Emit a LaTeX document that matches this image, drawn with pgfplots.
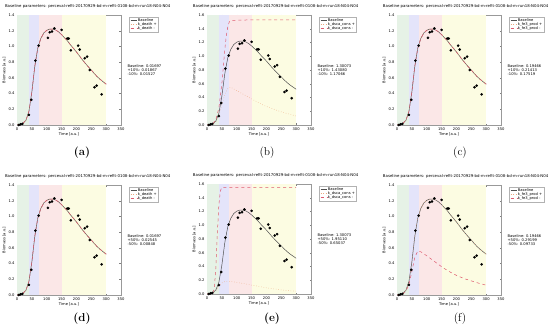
\documentclass[border=0pt]{standalone}
\usepackage{pgfplots}
\pgfplotsset{compat=1.18}
\usepackage{pgfplotstable}
\usepackage{fontspec}
\newfontfamily\dv{DejaVu Sans}
\newcommand\tf{\dv\fontsize{3.7}{4.3}\selectfont}
\newcommand\ttf{\dv\fontsize{3.9}{4.5}\selectfont}
\definecolor{bgG}{RGB}{230,242,230}
\definecolor{bgB}{RGB}{228,228,250}
\definecolor{bgP}{RGB}{251,231,231}
\definecolor{bgY}{RGB}{252,252,226}
\definecolor{cBase}{RGB}{80,80,80}
\definecolor{cPlus}{RGB}{238,170,130}
\definecolor{cMinus}{RGB}{222,90,110}

\pgfplotstableread{
x y
6 0.0
12 0.01
18 0.015
40 0.13
48 0.32
62 0.82
73 1.01
104 1.11
110 1.18
118 1.19
126 1.23
150 1.21
169 1.10
174 1.10
181 0.95
206 1.01
211 0.96
228 0.85
236 0.87
245 0.70
261 0.48
268 0.50
285 0.39
}\pts

\pgfplotstableread{
x y
0 0.0
10 0.005
20 0.02
30 0.06
40 0.17
50 0.42
60 0.75
70 0.98
80 1.10
90 1.17
100 1.205
110 1.22
120 1.22
130 1.21
140 1.185
150 1.15
160 1.11
170 1.07
180 1.02
190 0.975
200 0.93
210 0.88
220 0.83
230 0.785
240 0.74
250 0.70
260 0.655
270 0.615
280 0.58
290 0.55
300 0.52
}\base

\pgfplotstableread{
x y
0 0.0
20 0.02
30 0.08
40 0.25
50 0.60
55 0.85
60 1.10
65 1.30
70 1.43
75 1.50
80 1.52
150 1.53
300 1.53
}\bMinus

\pgfplotstableread{
x y
0 0.0
20 0.01
30 0.05
40 0.14
50 0.30
60 0.45
70 0.53
80 0.55
100 0.50
125 0.44
150 0.38
175 0.32
200 0.27
225 0.23
250 0.19
275 0.16
300 0.13
}\bPlus

\pgfplotstableread{
x y
0 0.0
20 0.02
25 0.10
30 0.40
35 0.90
40 1.30
45 1.50
50 1.55
150 1.55
300 1.55
}\eMinus

\pgfplotstableread{
x y
0 0.0
20 0.01
30 0.05
40 0.12
50 0.16
60 0.18
75 0.185
100 0.17
150 0.13
200 0.09
250 0.06
300 0.04
}\ePlus

\pgfplotstableread{
x y
0 0.0
20 0.015
30 0.05
40 0.13
50 0.30
60 0.48
70 0.56
80 0.55
100 0.50
125 0.43
150 0.36
175 0.30
200 0.25
225 0.21
250 0.18
275 0.15
300 0.125
}\fMinus

\pgfplotsset{
  panel/.style={
    scale only axis, width=104bp, height=110bp,
    xmin=0, xmax=350, ymin=0,
    clip mode=individual,
    xtick={0,50,...,350},
    ytick={0,0.2,...,1.61},
    /pgf/number format/assume math mode=true,
    ticklabel style={font=\tf},
    yticklabel style={/pgf/number format/fixed, /pgf/number format/fixed zerofill, /pgf/number format/precision=1, xshift=1pt},
    xticklabel style={yshift=1pt},
    xlabel={Time [a.u.]}, ylabel={Biomass [a.u.]},
    label style={font=\tf},
    xlabel style={yshift=4pt}, ylabel style={yshift=-4pt},
    axis line style={gray!80, line width=0.3pt},
    tick style={gray, line width=0.3pt},
    major tick length=1.5bp, tick align=inside,
    legend style={font=\tf, at={(rel axis cs:1.08,0.985)}, anchor=north west,
      draw=gray!60, line width=0.3pt, inner sep=1pt, row sep=-1.5pt,
      nodes={inner sep=0.6pt}},
    legend cell align=left,
    legend image code/.code={\draw[##1] (0cm,0cm) -- (0.22cm,0cm);},
  },
  ptsty/.style={only marks, mark=*, mark size=1.1bp, black, forget plot},
}
\newcommand\bands[1]{%
  \fill[bgG] (axis cs:0,0) rectangle (axis cs:39,#1);
  \fill[bgB] (axis cs:39,0) rectangle (axis cs:74,#1);
  \fill[bgP] (axis cs:74,0) rectangle (axis cs:151,#1);
  \fill[bgY] (axis cs:151,0) rectangle (axis cs:301,#1);
}
\newcommand\ttl{Baseline parameters: perceval-refit-20170929-bd-m-refit-0108-bd-m-run18-N04-N04}

\begin{document}
\begin{tikzpicture}
\path[use as bounding box] (0,0) rectangle (550bp,-329bp);

% (a)
\begin{axis}[panel, at={(17bp,-15bp)}, anchor=north west, ymax=1.4]
\bands{1.4}
\addplot[cBase, line width=0.5pt] table {\base};
\addplot[cPlus, dotted, line width=0.5pt] table {\base};
\addplot[cMinus, dashed, line width=0.5pt] table {\base};
\addplot[ptsty] table {\pts};
\legend{Baseline, k\_death +, k\_death -}
\node[font=\tf, anchor=west, align=left] at (rel axis cs:1.03,0.5) {Baseline: 0.01697\\ +10\%: 0.01867\\ -10\%: 0.01527};
\node[font=\ttf] at (rel axis cs:0.68,1.08) {\ttl};
\end{axis}

% (b)
\begin{axis}[panel, at={(207bp,-15bp)}, anchor=north west, ymax=1.6]
\bands{1.6}
\addplot[cBase, line width=0.5pt] table {\base};
\addplot[cPlus, dotted, line width=0.5pt] table {\bPlus};
\addplot[cMinus, dashed, line width=0.5pt] table {\bMinus};
\addplot[ptsty] table {\pts};
\legend{Baseline, k\_dsca\_cons +, k\_dsca\_cons -}
\node[font=\tf, anchor=west, align=left] at (rel axis cs:1.03,0.5) {Baseline: 1.30073\\ +10\%: 1.43080\\ -10\%: 1.17066};
\node[font=\ttf] at (rel axis cs:0.66,1.08) {\ttl};
\end{axis}

% (c)
\begin{axis}[panel, at={(397bp,-15bp)}, anchor=north west, ymax=1.4]
\bands{1.4}
\addplot[cBase, line width=0.5pt] table {\base};
\addplot[cPlus, dotted, line width=0.5pt] table {\base};
\addplot[cMinus, dashed, line width=0.5pt] table {\base};
\addplot[ptsty] table {\pts};
\legend{Baseline, k\_fe3\_prod +, k\_fe3\_prod -}
\node[font=\tf, anchor=west, align=left] at (rel axis cs:1.03,0.5) {Baseline: 0.19466\\ +10\%: 0.21413\\ -10\%: 0.17519};
\node[font=\ttf] at (rel axis cs:0.66,1.08) {\ttl};
\end{axis}

% (d)
\begin{axis}[panel, at={(17bp,-185bp)}, anchor=north west, ymax=1.4]
\bands{1.4}
\addplot[cBase, line width=0.5pt] table {\base};
\addplot[cPlus, dotted, line width=0.5pt] table {\base};
\addplot[cMinus, dashed, line width=0.5pt] table {\base};
\addplot[ptsty] table {\pts};
\legend{Baseline, k\_death +, k\_death -}
\node[font=\tf, anchor=west, align=left] at (rel axis cs:1.03,0.5) {Baseline: 0.01697\\ +50\%: 0.02545\\ -50\%: 0.00848};
\node[font=\ttf] at (rel axis cs:0.68,1.08) {\ttl};
\end{axis}

% (e)
\begin{axis}[panel, at={(207bp,-184bp)}, anchor=north west, ymax=1.6]
\bands{1.6}
\addplot[cBase, line width=0.5pt] table {\base};
\addplot[cPlus, dotted, line width=0.5pt] table {\ePlus};
\addplot[cMinus, dashed, line width=0.5pt] table {\eMinus};
\addplot[ptsty] table {\pts};
\legend{Baseline, k\_dsca\_cons +, k\_dsca\_cons -}
\node[font=\tf, anchor=west, align=left] at (rel axis cs:1.03,0.5) {Baseline: 1.30073\\ +50\%: 1.95110\\ -50\%: 0.65037};
\node[font=\ttf] at (rel axis cs:0.66,1.08) {\ttl};
\end{axis}

% (f)
\begin{axis}[panel, at={(397bp,-185bp)}, anchor=north west, ymax=1.4]
\bands{1.4}
\addplot[cBase, line width=0.5pt] table {\base};
\addplot[cPlus, dotted, line width=0.5pt] table {\base};
\addplot[cMinus, dashed, line width=0.5pt] table {\fMinus};
\addplot[ptsty] table {\pts};
\legend{Baseline, k\_fe3\_prod +, k\_fe3\_prod -}
\node[font=\tf, anchor=west, align=left] at (rel axis cs:1.03,0.5) {Baseline: 0.19466\\ +50\%: 0.29199\\ -50\%: 0.09733};
\node[font=\ttf] at (rel axis cs:0.66,1.08) {\ttl};
\end{axis}

\node[font=\fontsize{11.5}{12}\selectfont\bfseries] at (82bp,-153bp) {(a)};
\node[font=\fontsize{11.5}{12}\selectfont] at (267bp,-153bp) {(b)};
\node[font=\fontsize{11.5}{12}\selectfont] at (460bp,-153bp) {(c)};
\node[font=\fontsize{11.5}{12}\selectfont\bfseries] at (82bp,-319bp) {(d)};
\node[font=\fontsize{11.5}{12}\selectfont\bfseries] at (272bp,-319bp) {(e)};
\node[font=\fontsize{11.5}{12}\selectfont] at (460bp,-319bp) {(f)};
\end{tikzpicture}
\end{document}
